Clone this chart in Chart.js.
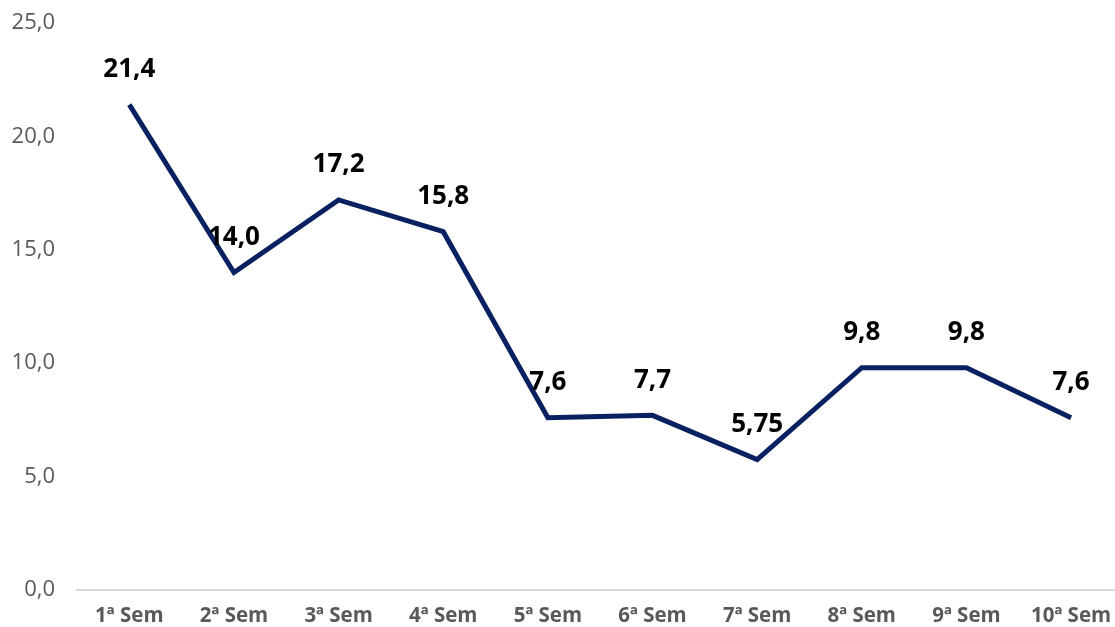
<!DOCTYPE html>
<html>
<head>
<meta charset="utf-8">
<script src="https://cdn.jsdelivr.net/npm/chart.js@4"></script>
<style>
  body { margin: 0; background: #fff; }
  #wrap { width: 1115px; height: 627px; position: relative; }
</style>
</head>
<body>
<div id="wrap"><canvas id="chart"></canvas></div>
<script>
const categories = ['1ª Sem', '2ª Sem', '3ª Sem', '4ª Sem', '5ª Sem', '6ª Sem', '7ª Sem', '8ª Sem', '9ª Sem', '10ª Sem'];
const values = [21.4, 14.0, 17.2, 15.8, 7.6, 7.7, 5.75, 9.8, 9.8, 7.6];
const yTicks = [0, 5, 10, 15, 20, 25];

const fmt = v => v.toLocaleString('pt-BR', { minimumFractionDigits: 1, maximumFractionDigits: 2 });

// labels above each point, like the Excel data labels
const pointLabels = {
  id: 'pointLabels',
  afterDatasetsDraw(chart) {
    const ctx = chart.ctx;
    const meta = chart.getDatasetMeta(0);
    ctx.save();
    ctx.font = 'bold 26px "Open Sans"';
    ctx.fillStyle = '#000';
    ctx.textAlign = 'center';
    ctx.textBaseline = 'middle';
    meta.data.forEach((pt, i) => {
      ctx.fillText(fmt(values[i]), pt.x, pt.y - 35);
    });
    ctx.restore();
  }
};

new Chart(document.getElementById('chart'), {
  type: 'line',
  data: {
    datasets: [{
      data: categories.map((c, i) => ({ x: i, y: values[i] })),
      borderColor: '#0a2161',
      borderWidth: 5,
      pointRadius: 0,
      tension: 0,
      fill: false
    }]
  },
  options: {
    responsive: true,
    maintainAspectRatio: false,
    animation: false,
    layout: { padding: { top: 23, right: 0, bottom: 0, left: 0 } },
    plugins: { legend: { display: false }, tooltip: { enabled: false } },
    scales: {
      x: {
        type: 'linear',
        min: -0.5,
        max: 9.42,
        grid: { display: false, drawTicks: false },
        border: { display: true, color: '#d9d9d9', width: 2 },
        afterFit: s => { s.height = 37; s.paddingLeft = 0; s.paddingRight = 0; },
        afterBuildTicks: s => { s.ticks = categories.map((c, i) => ({ value: i })); },
        ticks: {
          autoSkip: false,
          maxRotation: 0,
          padding: 14,
          color: '#595959',
          font: { family: 'Open Sans', size: 20.5, weight: 'bold' },
          callback: v => categories[v] ?? ''
        }
      },
      y: {
        min: 0,
        max: 25,
        afterBuildTicks: s => { s.ticks = yTicks.map(v => ({ value: v })); },
        grid: { display: false, drawTicks: false },
        border: { display: false },
        afterFit: s => { s.width = 77; s.paddingTop = 0; s.paddingBottom = 0; },
        ticks: {
          padding: 22,
          color: '#595959',
          font: { family: 'Open Sans', size: 22 },
          callback: v => v.toFixed(1).replace('.', ',')
        }
      }
    }
  },
  plugins: [pointLabels]
});
</script>
</body>
</html>
